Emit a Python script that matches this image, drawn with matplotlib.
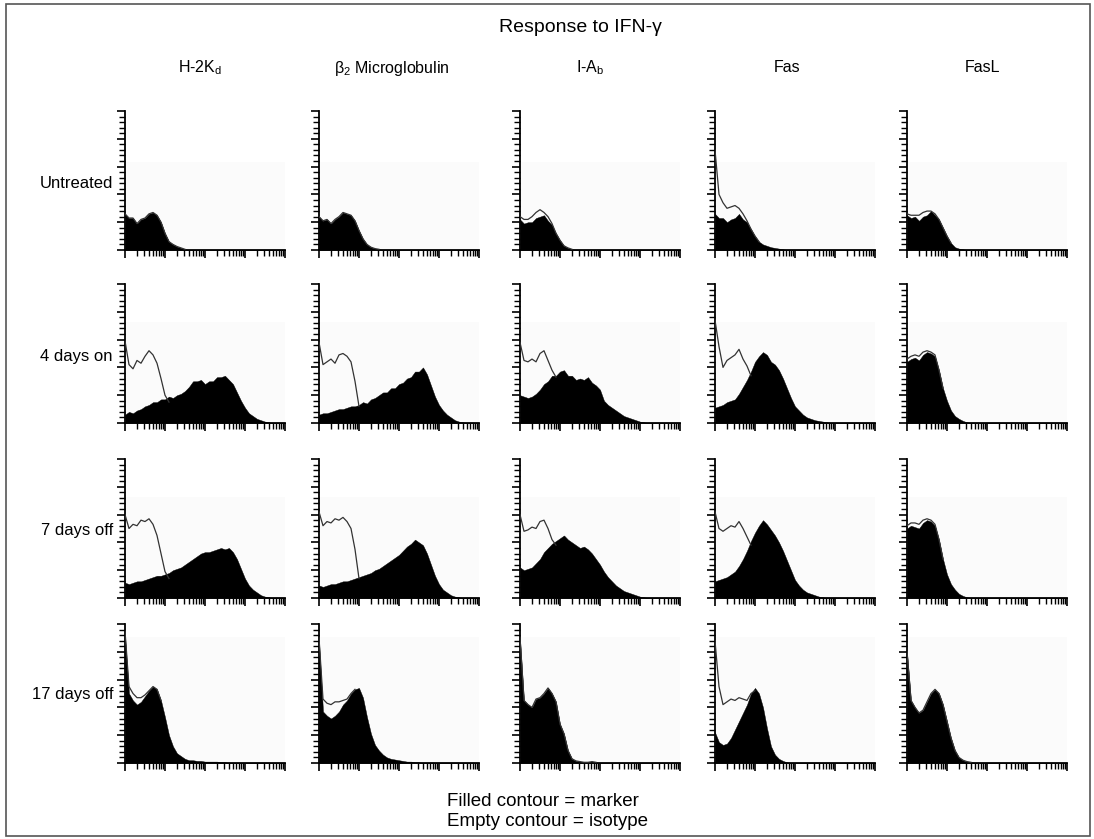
import numpy as np
import matplotlib
matplotlib.use("Agg")
import matplotlib.pyplot as plt
from matplotlib.patches import Rectangle
from matplotlib.ticker import MultipleLocator, LogLocator, NullFormatter

plt.rcParams['font.family'] = ['Liberation Sans', 'DejaVu Sans']
plt.rcParams['mathtext.fontset'] = 'custom'
plt.rcParams['mathtext.rm'] = 'Liberation Sans'

# channel positions, in decades of fluorescence (0.1 decade bins)
decades = np.arange(41) * 0.1
fluor = 10 ** decades

markers = [r"H-2K$_\mathrm{d}$", r"β$_2$ Microglobulin", r"I-A$_\mathrm{b}$", "Fas", "FasL"]
conditions = ["Untreated", "4 days on", "7 days off", "17 days off"]

# event counts as % of y-axis height; trailing bins are empty
# --- Untreated
h2kd_untr = [26, 23, 23, 19, 22, 23, 26, 27, 25, 20, 12, 6, 4, 2.5, 1.5, 0.5]
b2m_untr = [24, 21, 22, 19, 22, 24, 27, 26, 25, 21, 14, 8, 4, 2, 1, 0.5]
iab_untr = [22, 19, 20, 20, 23, 24, 25, 21, 18, 12, 7, 3, 1.5, 0.5]
iab_untr_iso = [24, 22, 22, 24, 27, 29, 27, 24, 19, 12, 7, 3, 1.5, 0.5]
fas_untr = [26, 23, 23, 20, 22, 23, 26, 22, 20, 15, 10, 6, 4, 3, 2, 1.5, 1, 0.5]
fas_untr_iso = [72, 40, 34, 30, 31, 32, 30, 26, 21, 15, 10, 6]
fasl_untr = [25, 23, 24, 21, 24, 25, 28, 25, 22, 16, 10, 5, 2, 1, 0.5]
fasl_untr_iso = [26, 25, 25, 25, 27, 28, 28, 26, 22, 16, 10, 5]

# --- 4 days on
h2kd_on = [6, 8, 7, 9, 10, 12, 13, 15, 15, 17, 17, 19, 18, 20, 21, 23, 26, 30, 30, 31,
           28, 30, 30, 33, 33, 34, 31, 28, 22, 16, 11, 7, 5, 3, 2, 1, 0.5]
h2kd_on_iso = [59, 42, 39, 45, 43, 48, 52, 49, 43, 32, 20, 15]
b2m_on = [6, 7, 7, 8, 9, 10, 10, 11, 12, 12, 13, 15, 14, 17, 18, 20, 22, 22, 25, 25,
          28, 29, 32, 33, 37, 37, 40, 35, 27, 19, 13, 9, 6, 4, 2, 1, 0.5]
b2m_on_iso = [58, 42, 44, 46, 43, 49, 50, 48, 44, 30, 12]
iab_on = [20, 19, 18, 19, 21, 24, 28, 30, 34, 34, 37, 38, 34, 34, 31, 32, 31, 33, 29, 27,
          24, 16, 13, 11, 9, 7, 5, 4, 3, 2, 1, 0.5]
iab_on_iso = [58, 45, 44, 46, 44, 50, 52, 45, 38, 33]
fas_on = [11, 12, 13, 15, 16, 17, 21, 26, 31, 37, 44, 48, 51, 49, 44, 42, 38, 32, 25, 18,
          12, 9, 6, 4, 3, 2, 1.5, 1, 0.5]
fas_on_iso = [74, 55, 40, 45, 47, 49, 53, 46, 41, 34]
fasl_on = [44, 46, 47, 45, 49, 51, 50, 48, 38, 25, 16, 9, 5, 3, 1.5, 0.5]
fasl_on_iso = [46, 48, 49, 48, 51, 52, 51, 49, 38, 25]

# --- 7 days off
h2kd_off7 = [11, 10, 11, 12, 12, 13, 14, 15, 16, 16, 17, 18, 20, 21, 22, 24, 26, 28, 30, 32,
             33, 33, 34, 35, 36, 35, 36, 33, 28, 21, 14, 9, 6, 4, 2, 1, 0.5]
h2kd_off7_iso = [60, 50, 53, 52, 56, 55, 57, 53, 45, 32, 19, 14]
b2m_off7 = [9, 8, 9, 10, 10, 11, 12, 12, 13, 14, 15, 16, 17, 18, 20, 21, 23, 25, 27, 29,
            31, 34, 37, 39, 42, 40, 38, 32, 24, 16, 10, 6, 4, 2, 1, 0.5]
b2m_off7_iso = [62, 52, 55, 54, 57, 56, 58, 55, 50, 35, 14]
iab_off7 = [22, 20, 21, 22, 25, 28, 33, 36, 39, 41, 43, 45, 42, 40, 38, 36, 37, 35, 32, 28,
            24, 19, 15, 12, 9, 7, 5, 4, 3, 2, 1, 0.5]
iab_off7_iso = [60, 48, 49, 51, 50, 55, 56, 50, 42, 38]
fas_off7 = [12, 13, 14, 15, 17, 19, 23, 28, 34, 41, 47, 52, 56, 53, 49, 45, 40, 34, 27, 20,
            13, 9, 6, 4, 3, 2, 1, 0.5]
fas_off7_iso = [62, 50, 48, 50, 52, 51, 55, 50, 44, 38]
fasl_off7 = [50, 52, 51, 50, 54, 56, 55, 52, 42, 28, 17, 10, 6, 3, 1.5, 0.5]
fasl_off7_iso = [52, 54, 54, 53, 56, 57, 56, 53, 42, 28]

# --- 17 days off
h2kd_off17 = [92, 50, 45, 42, 44, 48, 52, 55, 53, 45, 33, 20, 12, 7, 5, 3, 2, 2, 1.5, 1.5,
              1, 1, 1, 1, 0.5, 0.5]
h2kd_off17_iso = [95, 55, 50, 47, 47, 49, 52, 55, 53, 45]
b2m_off17 = [88, 37, 34, 32, 34, 37, 42, 45, 50, 53, 54, 47, 33, 21, 13, 9, 6, 4, 3, 2.5,
             2, 1.5, 1, 1, 0.5, 0.5]
b2m_off17_iso = [90, 46, 43, 42, 44, 44, 45, 46, 50, 53]
iab_off17 = [90, 45, 42, 40, 46, 47, 50, 54, 50, 44, 28, 21, 9, 3, 1.5, 1, 0.5, 0.5, 1, 0.5]
fas_off17 = [22, 15, 13, 14, 18, 24, 30, 36, 42, 50, 54, 50, 40, 25, 12, 6, 3, 1.5, 0.5]
fas_off17_iso = [88, 55, 42, 44, 46, 45, 47, 46, 45, 50, 52]
fasl_off17 = [80, 45, 40, 36, 38, 44, 50, 53, 50, 42, 30, 18, 9, 4, 2, 1, 0.5]

marker_rows = [
    [h2kd_untr, b2m_untr, iab_untr, fas_untr, fasl_untr],
    [h2kd_on, b2m_on, iab_on, fas_on, fasl_on],
    [h2kd_off7, b2m_off7, iab_off7, fas_off7, fasl_off7],
    [h2kd_off17, b2m_off17, iab_off17, fas_off17, fasl_off17],
]
isotype_rows = [
    [h2kd_untr, b2m_untr, iab_untr_iso, fas_untr_iso, fasl_untr_iso],
    [h2kd_on_iso, b2m_on_iso, iab_on_iso, fas_on_iso, fasl_on_iso],
    [h2kd_off7_iso, b2m_off7_iso, iab_off7_iso, fas_off7_iso, fasl_off7_iso],
    [h2kd_off17_iso, b2m_off17_iso, iab_off17, fas_off17_iso, fasl_off17],
]

W, H = 1094, 839
fig = plt.figure(figsize=(W / 100, H / 100), dpi=100)

col_left = [125, 319, 520, 715, 907]
row_bottom = [250, 423, 598, 763]
panel_w, panel_h = 160, 139
shade_top = [63, 73, 73, 91]

for r in range(4):
    for c in range(5):
        ax = fig.add_axes([col_left[c] / W, 1 - row_bottom[r] / H, panel_w / W, panel_h / H])
        fill = marker_rows[r][c]
        fill = fill + [0] * (41 - len(fill))
        iso = isotype_rows[r][c]
        ax.axhspan(0, shade_top[r], color='#fbfbfb', lw=0, zorder=0)
        ax.fill_between(fluor, 0, fill, color='black', lw=0.3, zorder=2)
        ax.plot(fluor[:len(iso)], iso, color='#333333', lw=0.9, zorder=3)
        ax.set_xscale('log')
        ax.set_xlim(1, 1e4)
        ax.set_ylim(0, 100)
        ax.set_facecolor('none')
        for s in ['top', 'right']:
            ax.spines[s].set_visible(False)
        for s in ['left', 'bottom']:
            ax.spines[s].set_linewidth(1.3)
        ax.yaxis.set_major_locator(MultipleLocator(20))
        ax.yaxis.set_minor_locator(MultipleLocator(4))
        ax.xaxis.set_major_locator(LogLocator(base=10, numticks=10))
        ax.xaxis.set_minor_locator(LogLocator(base=10, subs=np.arange(2, 10), numticks=10))
        ax.xaxis.set_major_formatter(NullFormatter())
        ax.xaxis.set_minor_formatter(NullFormatter())
        ax.yaxis.set_major_formatter(NullFormatter())
        ax.tick_params(which='major', direction='out', length=6, width=1.2)
        ax.tick_params(which='minor', direction='out', length=4, width=1.0)

fig.text(580 / W, 1 - 28 / H, "Response to IFN-γ", ha='center', va='center', fontsize=14)
header_x = [200, 392, 590, 787, 983]
for x, name in zip(header_x, markers):
    fig.text(x / W, 1 - 68 / H, name, ha='center', va='center', fontsize=11.5)
label_y = [183, 357, 530, 695]
for y, name in zip(label_y, conditions):
    fig.text(113 / W, 1 - y / H, name, ha='right', va='center', fontsize=12)

fig.text(447 / W, 1 - 801 / H, "Filled contour = marker", ha='left', va='center', fontsize=13.5)
fig.text(447 / W, 1 - 821 / H, "Empty contour = isotype", ha='left', va='center', fontsize=13.5)

fig.patches.append(Rectangle((6 / W, 3 / H), 1084 / W, 832 / H, transform=fig.transFigure,
                             fill=False, edgecolor='#555555', lw=1.2))

fig.savefig("out.png", dpi=100)
